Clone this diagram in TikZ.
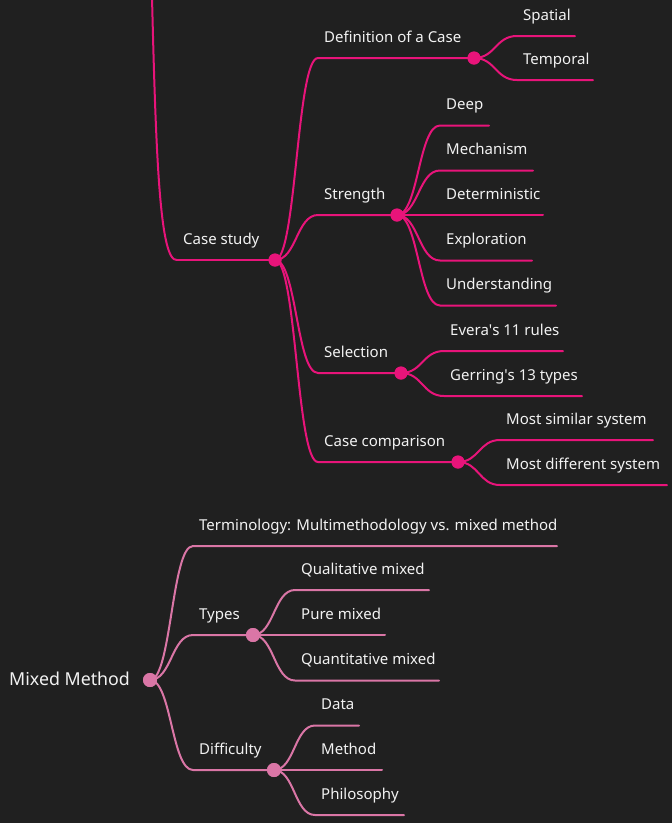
\documentclass[tikz,border=0pt]{standalone}
\usepackage{fontspec}
\setmainfont{Noto Sans}
\usetikzlibrary{calc}
\definecolor{bg}{RGB}{32,32,32}
\definecolor{pinkA}{RGB}{232,20,122}
\definecolor{pinkB}{RGB}{218,118,166}
\definecolor{txt}{RGB}{242,242,242}
\begin{document}
\begin{tikzpicture}[x=1pt,y=-1pt,
  lbl/.style={anchor=base west,inner sep=0pt,text=txt,font=\fontsize{15}{18}\selectfont},
  bigl/.style={anchor=base west,inner sep=0pt,text=txt,font=\fontsize{17.8}{21}\selectfont},
  dotA/.style={circle,fill=pinkA,inner sep=0pt,minimum size=13pt},
  dotB/.style={circle,fill=pinkB,inner sep=0pt,minimum size=14pt},
  lnA/.style={draw=pinkA,line width=2pt,line cap=round},
  lnB/.style={draw=pinkB,line width=2pt,line cap=round},
  link/.style={to path={let \p1=(\tikztostart), \p2=(\tikztotarget) in
     .. controls ({(\x1+\x2)/2},\y1) and ({(\x1+\x2)/2},\y2) .. (\tikztotarget)}}
]
\fill[bg] (0,0) rectangle (672,823);
\useasboundingbox (0,0) rectangle (672,823);

% ---------- Case study branch ----------
\coordinate (top) at (152,-3);
\coordinate (cs-s) at (177,260);
\coordinate (def-s) at (318,58);
\coordinate (str-s) at (318,215);
\coordinate (sel-s) at (318,373);
\coordinate (cc-s) at (318,462);
\coordinate (sp-s) at (517,36);   \coordinate (sp-e) at (575,36);
\coordinate (tm-s) at (517,80);   \coordinate (tm-e) at (593,80);
\coordinate (deep-s) at (440,125.5); \coordinate (deep-e) at (489,125.5);
\coordinate (mech-s) at (440,170.5); \coordinate (mech-e) at (533,170.5);
\coordinate (det-s) at (440,215);    \coordinate (det-e) at (543,215);
\coordinate (exp-s) at (440,260.5);  \coordinate (exp-e) at (532,260.5);
\coordinate (und-s) at (440,305.5);  \coordinate (und-e) at (556,305.5);
\coordinate (ev-s) at (444,351);     \coordinate (ev-e) at (563,351);
\coordinate (ger-s) at (444,396);    \coordinate (ger-e) at (582,396);
\coordinate (ms-s) at (500,440);     \coordinate (ms-e) at (653,440);
\coordinate (md-s) at (500,485);     \coordinate (md-e) at (667,485);

\path[lnA] (top) .. controls (156,160) and (160,262) .. (cs-s);
\path[lnA] (cs-s) -- (275,260);
\node[dotA] (cs) at (275,260) {};
\node[dotA] (def) at (474,58) {};
\node[dotA] (str) at (397,215) {};
\node[dotA] (sel) at (401,373) {};
\node[dotA] (cc) at (458,462) {};

\path[lnA] (cs.center) to[link] (def-s) -- (def.center);
\path[lnA] (cs.center) to[link] (str-s) -- (str.center);
\path[lnA] (cs.center) to[link] (sel-s) -- (sel.center);
\path[lnA] (cs.center) to[link] (cc-s) -- (cc.center);
\path[lnA] (def.center) to[link] (sp-s) -- (sp-e);
\path[lnA] (def.center) to[link] (tm-s) -- (tm-e);
\path[lnA] (str.center) to[link] (deep-s) -- (deep-e);
\path[lnA] (str.center) to[link] (mech-s) -- (mech-e);
\path[lnA] (str.center) to[link] (det-s) -- (det-e);
\path[lnA] (str.center) to[link] (exp-s) -- (exp-e);
\path[lnA] (str.center) to[link] (und-s) -- (und-e);
\path[lnA] (sel.center) to[link] (ev-s) -- (ev-e);
\path[lnA] (sel.center) to[link] (ger-s) -- (ger-e);
\path[lnA] (cc.center) to[link] (ms-s) -- (ms-e);
\path[lnA] (cc.center) to[link] (md-s) -- (md-e);
\fill[pinkA] (cs) circle (6.5);
\fill[pinkA] (def) circle (6.5);
\fill[pinkA] (str) circle (6.5);
\fill[pinkA] (sel) circle (6.5);
\fill[pinkA] (cc) circle (6.5);

\node[lbl] (cs-t) at ($(cs-s)+(6,-16)$) {Case study};
\node[lbl] (def-t) at ($(def-s)+(6,-16)$) {Definition of a Case};
\node[lbl] (str-t) at ($(str-s)+(6,-16)$) {Strength};
\node[lbl] (sel-t) at ($(sel-s)+(6,-16)$) {Selection};
\node[lbl] (cc-t) at ($(cc-s)+(6,-16)$) {Case comparison};
\node[lbl] (sp-t) at ($(sp-s)+(6,-16)$) {Spatial};
\node[lbl] (tm-t) at ($(tm-s)+(6,-16)$) {Temporal};
\node[lbl] (deep-t) at ($(deep-s)+(6,-16)$) {Deep};
\node[lbl] (mech-t) at ($(mech-s)+(6,-16)$) {Mechanism};
\node[lbl] (det-t) at ($(det-s)+(6,-16)$) {Deterministic};
\node[lbl] (exp-t) at ($(exp-s)+(6,-16)$) {Exploration};
\node[lbl] (und-t) at ($(und-s)+(6,-16)$) {Understanding};
\node[lbl] (ev-t) at ($(ev-s)+(6,-16)$) {Evera\textquotesingle s 11 rules};
\node[lbl] (ger-t) at ($(ger-s)+(6,-16)$) {Gerring\textquotesingle s 13 types};
\node[lbl] (ms-t) at ($(ms-s)+(6,-16)$) {Most similar system};
\node[lbl] (md-t) at ($(md-s)+(6,-16)$) {Most different system};

% ---------- Mixed Method branch ----------
\coordinate (term-s) at (193,546); \coordinate (term-e) at (557,546);
\coordinate (ty-s) at (193,635);
\coordinate (dif-s) at (193,770);
\coordinate (ql-s) at (295,590);   \coordinate (ql-e) at (429,590);
\coordinate (pm-s) at (295,635);   \coordinate (pm-e) at (385,635);
\coordinate (qt-s) at (295,680.5); \coordinate (qt-e) at (439,680.5);
\coordinate (da-s) at (315,725.5); \coordinate (da-e) at (359,725.5);
\coordinate (me-s) at (315,770);   \coordinate (me-e) at (382,770);
\coordinate (ph-s) at (315,815);   \coordinate (ph-e) at (404,815);

\node[dotB] (mm) at (150,680) {};
\node[dotB] (ty) at (253,635) {};
\node[dotB] (dif) at (274,770) {};

\path[lnB] (mm.center) to[link] (term-s) -- (term-e);
\path[lnB] (mm.center) to[link] (ty-s) -- (ty.center);
\path[lnB] (mm.center) to[link] (dif-s) -- (dif.center);
\path[lnB] (ty.center) to[link] (ql-s) -- (ql-e);
\path[lnB] (ty.center) to[link] (pm-s) -- (pm-e);
\path[lnB] (ty.center) to[link] (qt-s) -- (qt-e);
\path[lnB] (dif.center) to[link] (da-s) -- (da-e);
\path[lnB] (dif.center) to[link] (me-s) -- (me-e);
\path[lnB] (dif.center) to[link] (ph-s) -- (ph-e);
\fill[pinkB] (mm) circle (7);
\fill[pinkB] (ty) circle (7);
\fill[pinkB] (dif) circle (7);

\node[bigl] (mm-t) at (9,685) {Mixed Method};
\node[lbl] (term-t) at ($(term-s)+(6,-16)$) {Terminology: Multimethodology vs. mixed method};
\node[lbl] (ty-t) at ($(ty-s)+(6,-16)$) {Types};
\node[lbl] (dif-t) at ($(dif-s)+(6,-16)$) {Difficulty};
\node[lbl] (ql-t) at ($(ql-s)+(6,-16)$) {Qualitative mixed};
\node[lbl] (pm-t) at ($(pm-s)+(6,-16)$) {Pure mixed};
\node[lbl] (qt-t) at ($(qt-s)+(6,-16)$) {Quantitative mixed};
\node[lbl] (da-t) at ($(da-s)+(6,-16)$) {Data};
\node[lbl] (me-t) at ($(me-s)+(6,-16)$) {Method};
\node[lbl] (ph-t) at ($(ph-s)+(6,-16)$) {Philosophy};
\end{tikzpicture}
\end{document}
